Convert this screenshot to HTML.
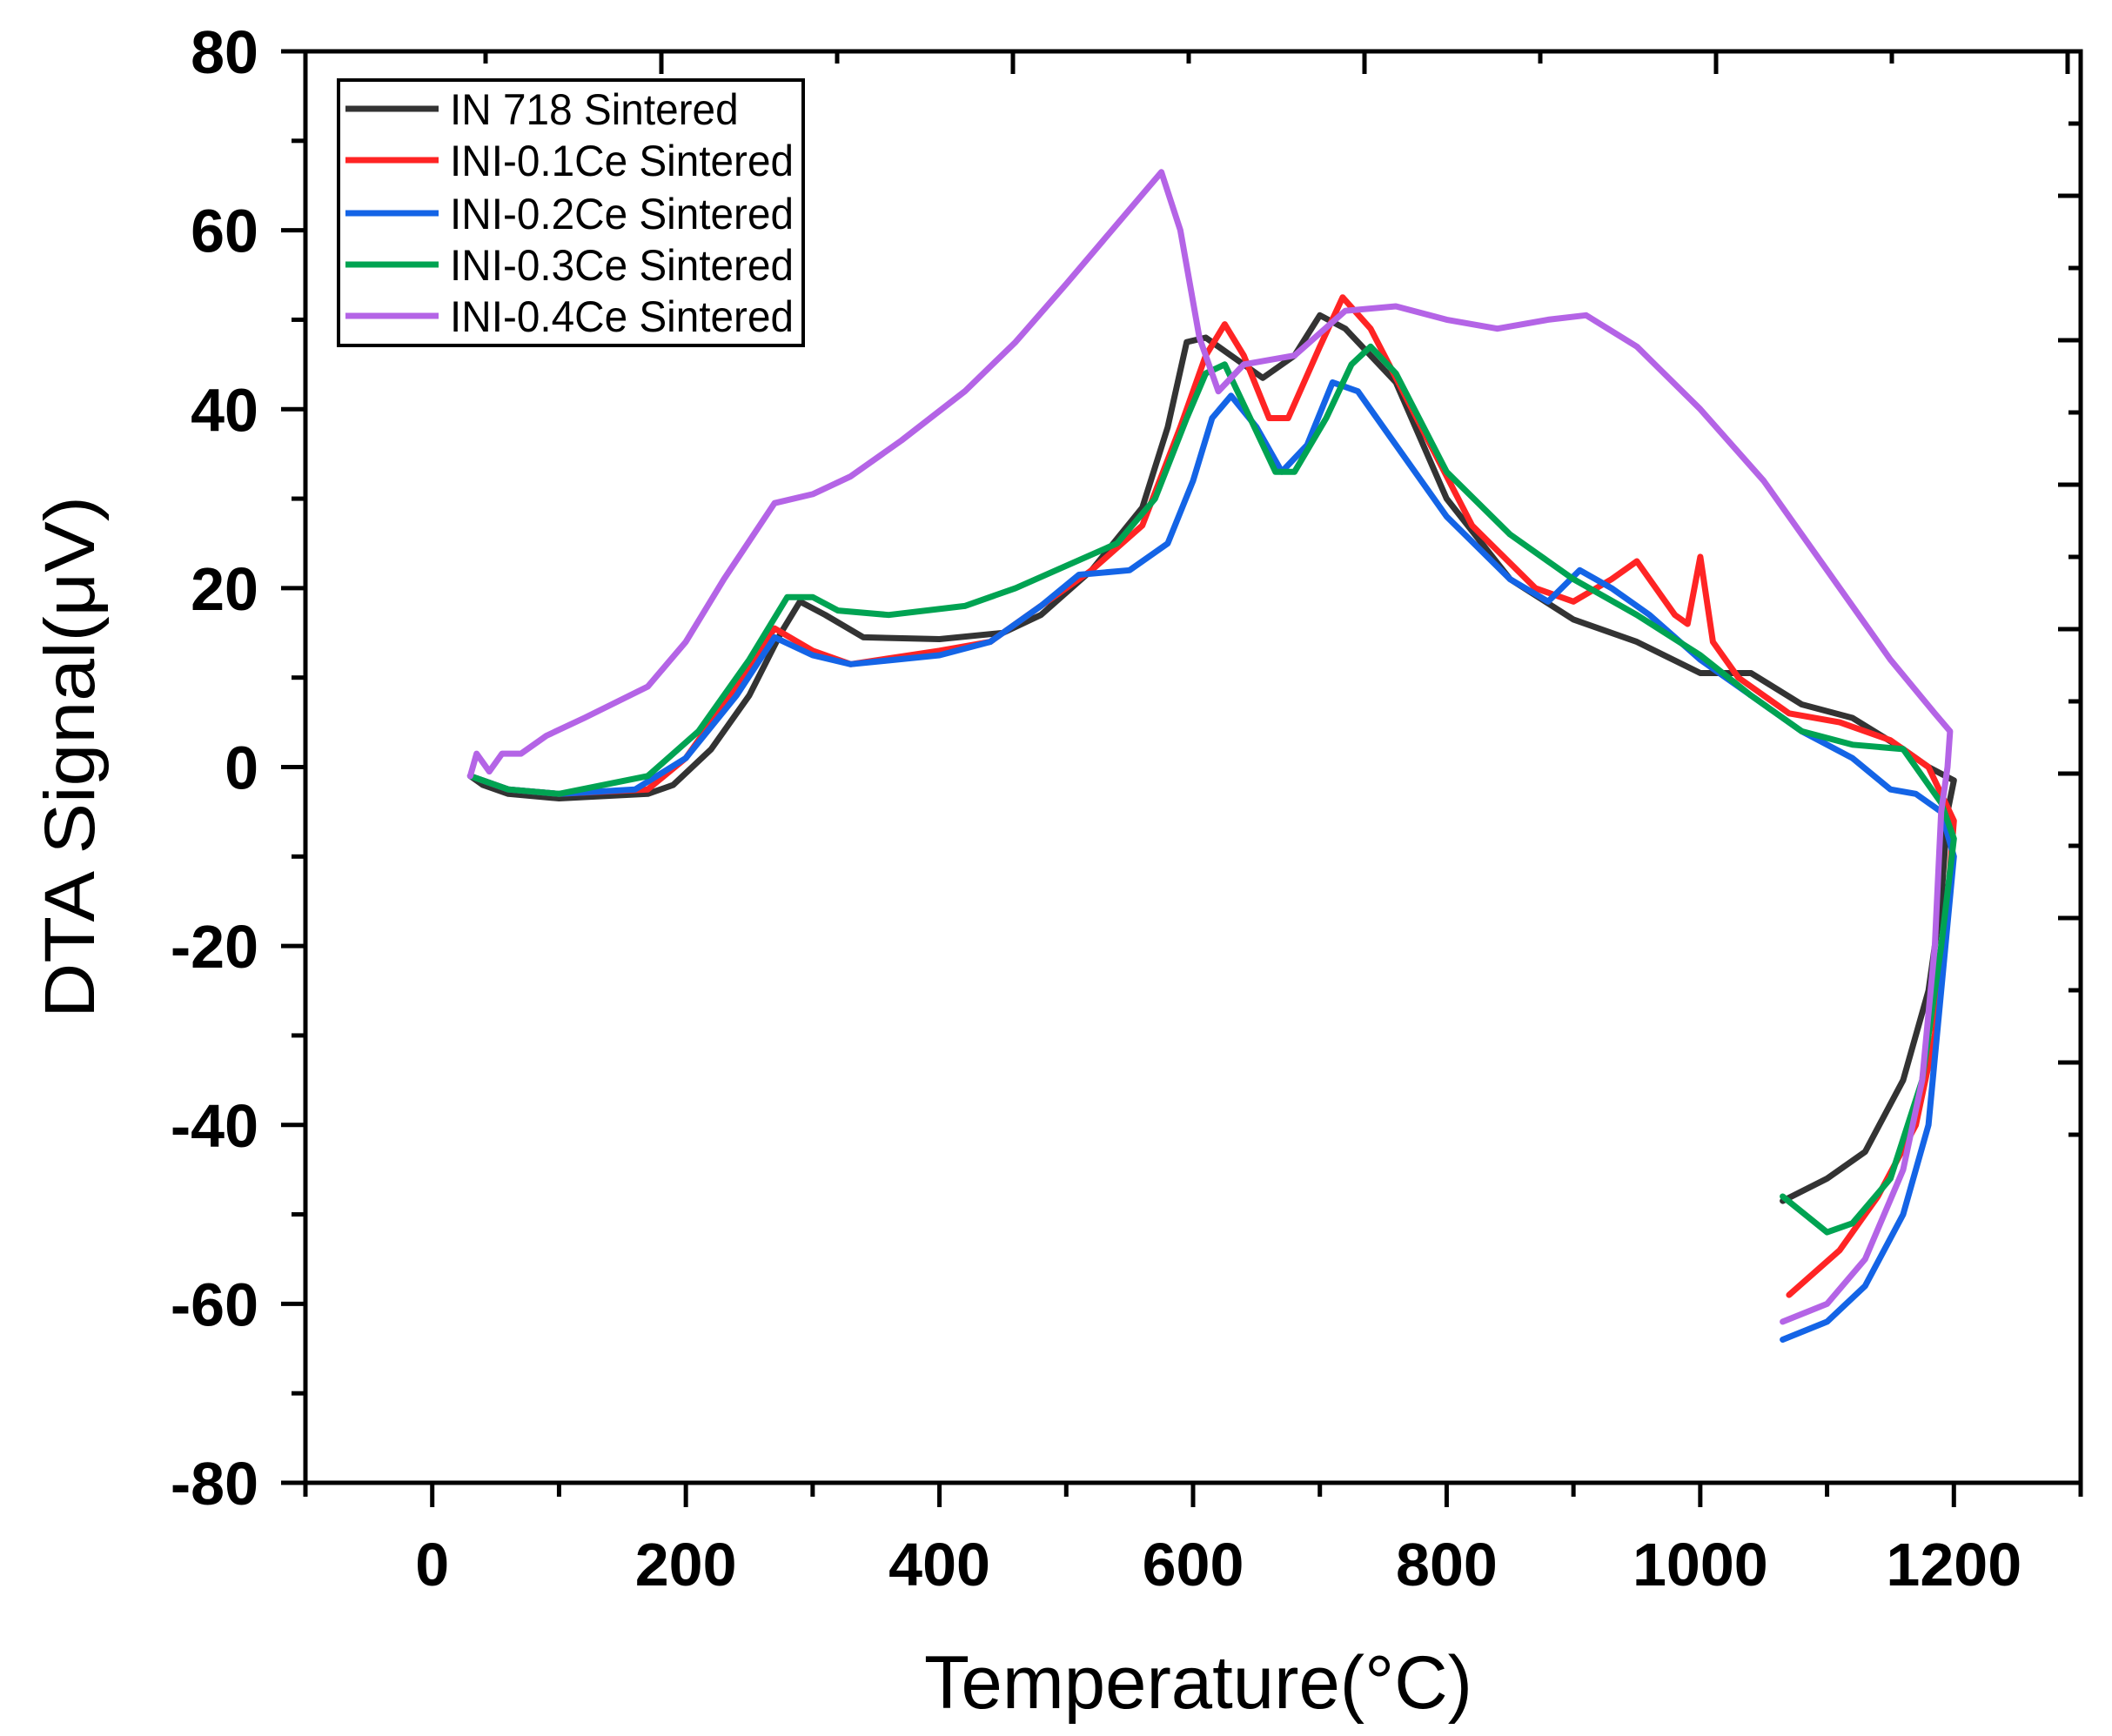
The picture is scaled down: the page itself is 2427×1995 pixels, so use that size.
<!DOCTYPE html>
<html><head><meta charset="utf-8"><style>
html,body{margin:0;padding:0;background:#fff;}
svg{display:block;font-family:"Liberation Sans",Arial,sans-serif;}
</style></head><body>
<svg id="chart" width="2427" height="1995" viewBox="0 0 2427 1995" xmlns="http://www.w3.org/2000/svg">
<rect width="2427" height="1995" fill="#fff"/>
<g id="series"></g>
<g id="axes"></g>
<text x="1377" y="1963" font-size="86" text-anchor="middle" textLength="630" lengthAdjust="spacingAndGlyphs">Temperature(°C)</text>
<text transform="translate(108,870) rotate(-90)" font-size="82" text-anchor="middle" textLength="600" lengthAdjust="spacingAndGlyphs">DTA Signal(μV)</text>
<g>
<rect x="389" y="92" width="534" height="305" fill="#fff" stroke="#000" stroke-width="4"/>
<g id="legend-entries"></g>
</g>
</svg>
<script>
const xTicks=[0,200,400,600,800,1000,1200];
const yTicks=[80,60,40,20,0,-20,-40,-60,-80];
const seriesNames=["IN 718 Sintered","INI-0.1Ce Sintered","INI-0.2Ce Sintered","INI-0.3Ce Sintered","INI-0.4Ce Sintered"];
const seriesColors=["#333333","#ff2424","#1464e6","#00a352","#b464e6"];
const tempIN718=[30,40,60,100,170,190,220,250,275,290,310,340,400,450,480,520,560,580,595,610,630,655,680,700,720,760,800,850,900,950,1000,1040,1080,1120,1160,1180,1200,1195,1190,1180,1160,1130,1100,1065];
const dtaIN718=[-1,-2,-3,-3.5,-3,-2,2,8,15,18.5,17,14.5,14.3,15,17,22,29,38,47.5,48,46,43.5,46,50.5,49,43,30,21,16.5,14,10.5,10.5,7,5.5,2,0,-1.5,-5,-15,-25,-35,-43,-46,-48.5];
const temp01=[30,60,100,170,200,240,270,300,330,400,440,480,520,560,590,610,625,640,660,675,700,718,740,780,820,870,900,930,950,980,990,1000,1010,1030,1070,1110,1150,1180,1200,1195,1185,1170,1140,1110,1070];
const dta01=[-1,-2.5,-3,-2.5,1,9,15.5,13,11.5,13,14,18,22,27,38,46,49.5,46,39,39,47,52.5,49,38,27,20,18.5,21,23,17,16,23.5,14,10,6,5,3,0,-6,-15,-30,-40,-48,-54,-59];
const temp02=[30,60,100,160,200,240,270,300,330,400,440,480,510,550,580,600,615,630,650,670,690,710,730,760,800,850,880,905,930,960,1000,1040,1080,1120,1150,1170,1190,1200,1190,1180,1160,1130,1100,1065];
const dta02=[-1,-2.5,-3,-2.5,1,8,14.5,12.5,11.5,12.5,14,18,21.5,22,25,32,39,41.5,38,33,36,43,42,36,28,21,18.5,22,20,17,12,8,4,1,-2.5,-3,-5,-10,-25,-40,-50,-58,-62,-64];
const temp03=[30,60,100,170,210,250,280,300,320,360,420,460,500,540,570,595,610,625,645,665,680,705,725,740,760,800,850,900,950,1000,1040,1080,1120,1160,1190,1200,1190,1175,1150,1120,1100,1065];
const dta03=[-1,-2.5,-3,-1,4,12,19,19,17.5,17,18,20,22.5,25,30,39,44,45,39,33,33,39,45,47,44,33,26,21,17,12.5,8,4,2.5,2,-4,-8,-20,-35,-46,-51,-52,-48];
const temp04=[30,35,45,55,70,90,120,170,200,230,270,300,330,370,420,460,500,530,560,575,590,605,620,640,680,720,760,800,840,880,910,950,1000,1050,1100,1150,1185,1197,1195,1190,1185,1175,1160,1130,1100,1065];
const dta04=[-1,1.5,-0.5,1.5,1.5,3.5,5.5,9,14,21,29.5,30.5,32.5,36.5,42,47.5,54,59,64,66.5,60,48,42,45,46,51,51.5,50,49,50,50.5,47,40,32,22,12,6,4,0,-5,-20,-35,-45,-55,-60,-62];
const allTemps=[tempIN718,temp01,temp02,temp03,temp04];
const allDta=[dtaIN718,dta01,dta02,dta03,dta04];

const L=351,R=2391,T=59,B=1704,xMin=-100,xMax=1300,yMin=-80,yMax=80;
function xs(v){return L+(v-xMin)/(xMax-xMin)*(R-L);}
function ys(v){return B-(v-yMin)/(yMax-yMin)*(B-T);}
const NS="http://www.w3.org/2000/svg";
function mk(tag,attrs,parent){const e=document.createElementNS(NS,tag);for(const k in attrs)e.setAttribute(k,attrs[k]);parent.appendChild(e);return e;}

const sg=document.getElementById('series');
allTemps.forEach((tx,i)=>{
  const d=tx.map((t,j)=>(j?'L':'M')+xs(t).toFixed(1)+','+ys(allDta[i][j]).toFixed(1)).join(' ');
  const p=mk('path',{d:d,fill:'none',stroke:seriesColors[i],'stroke-width':7,'stroke-linejoin':'round','stroke-linecap':'round'},sg);
  
  
});

const ag=document.getElementById('axes');
const frame=mk('rect',{x:L,y:T,width:R-L,height:B-T,fill:'none',stroke:'#000','stroke-width':5},ag);


for(let v=-100;v<=1300;v+=100){
  const major=xTicks.includes(v);
  mk('line',{x1:xs(v),x2:xs(v),y1:B,y2:B+(major?28:16),stroke:'#000','stroke-width':5},ag);
}
xTicks.forEach(v=>{
  const t=mk('text',{x:xs(v),y:1822,'font-size':70,'font-weight':'bold','text-anchor':'middle'},ag);
  t.textContent=v;
  
  
});
for(let v=-80;v<=80;v+=10){
  const major=yTicks.includes(v);
  mk('line',{x1:L,x2:L-(major?28:16),y1:ys(v),y2:ys(v),stroke:'#000','stroke-width':5},ag);
}
yTicks.forEach(v=>{
  const t=mk('text',{x:297,y:ys(v)+25,'font-size':70,'font-weight':'bold','text-anchor':'end'},ag);
  t.textContent=v;
  
  
});
for(let i=0;i<10;i++){const x=558+i*202;if(x>R)break;mk('line',{x1:x,x2:x,y1:T,y2:T+(i%2?26:14),stroke:'#000','stroke-width':5},ag);}
for(let i=0;i<16;i++){const y=59+i*83;if(y>B)break;mk('line',{x1:R,x2:R-(i%2?14:26),y1:y,y2:y,stroke:'#000','stroke-width':5},ag);}

const lg=document.getElementById('legend-entries');
const rowsY=[125,184,245,304,363];
seriesNames.forEach((n,i)=>{
  const g=mk('g',{},lg);
  
  
  mk('line',{x1:397,x2:504,y1:rowsY[i],y2:rowsY[i],stroke:seriesColors[i],'stroke-width':7},g);
  const t=mk('text',{x:517,y:rowsY[i]+18,'font-size':50,textLength:i===0?(1330-810)/1.568:395,lengthAdjust:'spacingAndGlyphs'},g);
  t.textContent=n;
});
</script>
</body></html>
